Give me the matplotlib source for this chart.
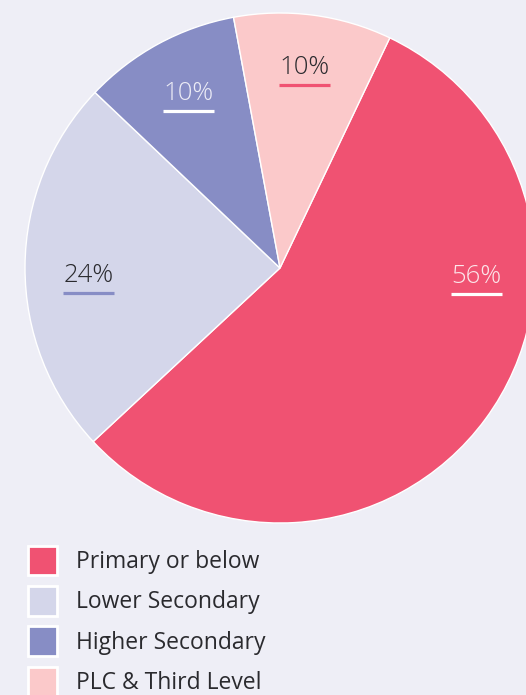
import matplotlib.pyplot as plt
from matplotlib.patches import Patch

categories = ['Primary or below', 'Lower Secondary', 'Higher Secondary', 'PLC & Third Level']
shares = [56, 24, 10, 10]
colors = ['#F05272', '#D4D6EA', '#878DC5', '#FBC9CA']

# label placement (data coords, pie radius = 1) and styles
label_pos = [(0.77, -0.035), (-0.75, -0.03), (-0.357, 0.684), (0.098, 0.786)]
text_colors = ['#FCE6EA', '#2A2A2E', '#ECECF6', '#2A2A2E']
line_colors = ['#FFFFFF', '#878DC5', '#FFFFFF', '#F05272']

bg = '#EEEEF6'
fig = plt.figure(figsize=(5.26, 6.95), dpi=100, facecolor=bg)
plt.rcParams['font.family'] = ['Open Sans', 'DejaVu Sans']

cx, cy, r = 280, 268, 255
W, H = 526, 695
ax = fig.add_axes([(cx - r) / W, (H - cy - r) / H, 2 * r / W, 2 * r / H])
ax.set_facecolor(bg)

wedges, _ = ax.pie(shares, colors=colors, startangle=64.5, counterclock=False,
                   wedgeprops=dict(edgecolor='white', linewidth=1.0))
ax.set_xlim(-1, 1)
ax.set_ylim(-1, 1)
ax.set_aspect('equal')
ax.axis('off')

for v, (x, y), tc, lc in zip(shares, label_pos, text_colors, line_colors):
    ax.text(x, y, f'{v}%', ha='center', va='center', fontsize=18.5, color=tc,
            fontweight='light')
    ax.plot([x - 0.1, x + 0.1], [y - 0.068, y - 0.068], color=lc, lw=2.3,
            solid_capstyle='butt')

handles = [Patch(facecolor=c, edgecolor='white', linewidth=2) for c in colors]
leg = fig.legend(handles, categories, loc='lower left', bbox_to_anchor=(0.035, -0.015),
                 frameon=False, fontsize=16.5, handlelength=1.27, handleheight=1.62,
                 handletextpad=0.85, labelspacing=0.46, borderaxespad=0)
for t in leg.get_texts():
    t.set_color('#2A2A2E')

fig.savefig('out.png', dpi=100, facecolor=bg)
